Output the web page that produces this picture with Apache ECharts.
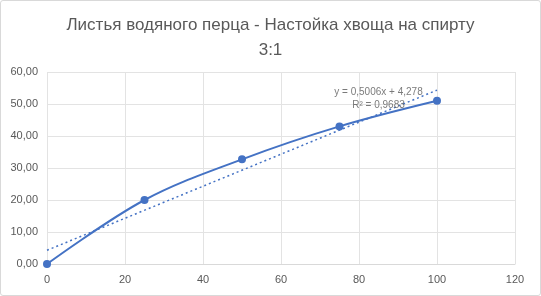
<!DOCTYPE html>
<html><head><meta charset="utf-8">
<script src="https://cdn.jsdelivr.net/npm/echarts@6/dist/echarts.min.js"></script>
<style>html,body{margin:0;padding:0;background:#fff}#c{width:541px;height:296px;box-sizing:border-box;border:1px solid #d9d9d9;border-radius:3px}</style>
</head><body><div id="c"></div>
<script>
const titleLines = ['Листья водяного перца - Настойка хвоща на спирту', '3:1'];
const xValues = [0, 25, 50, 75, 100];
const yValues = [0, 20.0, 32.7, 43.0, 51.0];
const trendSlope = 0.5006;
const trendIntercept = 4.278;
const trendRange = [0, 100];
const trendLabel = ['y = 0,5006x + 4,278', 'R² = 0,9683'];

const fmt = v => v.toFixed(2).replace('.', ',');
const chart = echarts.init(document.getElementById('c'));
const font = 'Liberation Sans';
chart.setOption({
  animation: false,
  title: {
    text: titleLines.join('\n'), left: 'center', top: 7,
    textStyle: {fontFamily: font, fontSize: 17, fontWeight: 'normal', color: '#595959', lineHeight: 25}
  },
  grid: {left: 46, right: 25, top: 71, bottom: 31},
  xAxis: {
    type: 'value', min: 0, max: 120, interval: 20,
    axisLine: {show: true, lineStyle: {color: '#d9d9d9'}},
    axisTick: {show: false},
    splitLine: {show: true, lineStyle: {color: '#e3e3e3'}},
    axisLabel: {fontFamily: font, fontSize: 11, color: '#595959', margin: 10}
  },
  yAxis: {
    type: 'value', min: 0, max: 60, interval: 10,
    axisLine: {show: false}, axisTick: {show: false},
    splitLine: {show: true, lineStyle: {color: '#e3e3e3'}},
    axisLabel: {fontFamily: font, fontSize: 11, color: '#595959', margin: 9, formatter: fmt}
  },
  series: [
    {
      type: 'line', data: trendRange.map(x => [x, trendSlope * x + trendIntercept]),
      symbol: 'none', lineStyle: {color: '#4472C4', width: 1.5, type: [2, 3]}, z: 1
    },
    {
      type: 'line', data: xValues.map((x, i) => [x, yValues[i]]), smooth: 0.35,
      symbol: 'circle', symbolSize: 8,
      lineStyle: {color: '#4472C4', width: 2}, itemStyle: {color: '#4472C4'}, z: 2
    },
    {
      type: 'scatter', data: [[85.0, 51.7]], symbolSize: 0, silent: true, z: 3,
      label: {show: true, position: 'inside', formatter: trendLabel.join('\n'), align: 'center',
        fontFamily: font, fontSize: 10, color: '#595959', lineHeight: 13}
    }
  ]
});
</script></body></html>
